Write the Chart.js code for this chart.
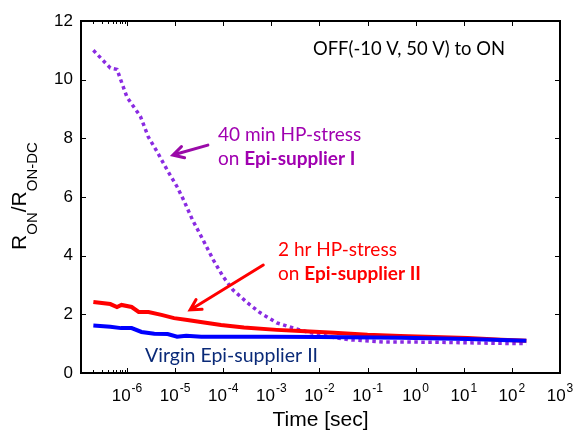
<!DOCTYPE html>
<html>
<head>
<meta charset="utf-8">
<script src="https://cdn.jsdelivr.net/npm/chart.js@4"></script>
<style>
  html, body { margin: 0; padding: 0; background: #fff; }
  #wrap { width: 574px; height: 437px; }
</style>
</head>
<body>
<div id="wrap"><canvas id="chart" width="574" height="437"></canvas></div>
<script>
// values (time in s, R_ON / R_ON-DC)
const stressITime = [2e-7, 4.5e-7, 6.2e-7, 1e-6, 1.9e-6, 2.75e-6, 4.2e-6, 6.8e-6, 1.1e-5, 1.5e-5, 2.3e-5, 3.8e-5, 6.2e-5, 1e-4, 1.6e-4, 3.2e-4, 5.9e-4, 1.3e-3, 2.9e-3, 5.6e-3, 1.7e-2, 4.5e-2, 0.21, 2.4, 26, 200];
const stressIValues = [11.0, 10.4, 10.35, 9.4, 8.75, 8.06, 7.55, 6.93, 6.35, 5.9, 5.22, 4.54, 3.86, 3.28, 2.83, 2.39, 2.05, 1.71, 1.53, 1.40, 1.23, 1.13, 1.06, 1.05, 1.02, 1.0];

const stressIITime = [2e-7, 4.5e-7, 6.2e-7, 7.7e-7, 1.25e-6, 1.75e-6, 2.8e-6, 5.2e-6, 9.5e-6, 1.8e-5, 3.4e-5, 9e-5, 2.7e-4, 1.3e-3, 4e-3, 2e-2, 0.1, 0.48, 2.4, 12, 60, 200];
const stressIIValues = [2.42, 2.35, 2.25, 2.32, 2.25, 2.08, 2.08, 1.98, 1.87, 1.81, 1.74, 1.64, 1.55, 1.47, 1.43, 1.37, 1.30, 1.26, 1.23, 1.19, 1.13, 1.10];

const virginTime = [2e-7, 4.5e-7, 7.5e-7, 1.25e-6, 2e-6, 3.7e-6, 7e-6, 1.1e-5, 1.7e-5, 3.5e-5, 1e-3, 1e-2, 0.5, 12, 200];
const virginValues = [1.62, 1.58, 1.53, 1.53, 1.40, 1.34, 1.33, 1.24, 1.27, 1.24, 1.24, 1.23, 1.20, 1.16, 1.10];

const decadeTicks = [1e-6, 1e-5, 1e-4, 1e-3, 1e-2, 1e-1, 1, 10, 100, 1000];
const decadeExponents = ['-6', '-5', '-4', '-3', '-2', '-1', '0', '1', '2', '3'];
const minorTicks = [2e-7, 3e-7, 4e-7, 5e-7, 6e-7, 7e-7, 8e-7, 9e-7];
const yTicks = [0, 2, 4, 6, 8, 10, 12];

const pts = (xs, ys) => xs.map((x, i) => ({ x: x, y: ys[i] }));

const AXIS_FONT = '"Liberation Sans", Arial, sans-serif';
const NOTE_FONT = 'Lato, "Open Sans", sans-serif';

function arrow(ctx, x0, y0, x1, y1, color) {
    const ang = Math.atan2(y1 - y0, x1 - x0);
    const head = 12, spread = 0.5;
    ctx.strokeStyle = color;
    ctx.lineWidth = 3;
    ctx.lineCap = 'round';
    ctx.beginPath();
    ctx.moveTo(x0, y0);
    ctx.lineTo(x1, y1);
    ctx.moveTo(x1 - head * Math.cos(ang - spread), y1 - head * Math.sin(ang - spread));
    ctx.lineTo(x1, y1);
    ctx.lineTo(x1 - head * Math.cos(ang + spread), y1 - head * Math.sin(ang + spread));
    ctx.stroke();
}

function mixedLine(ctx, x, y, parts) {
    parts.forEach(p => {
        ctx.font = (p.bold ? 'bold ' : '') + p.size + 'px ' + NOTE_FONT;
        ctx.fillText(p.text, x, y);
        x += ctx.measureText(p.text).width;
    });
}

const framePlugin = {
    id: 'frame',
    afterDraw(chart) {
        const { ctx, chartArea: a, scales: { x, y } } = chart;
        ctx.save();

        // ticks inside the box
        ctx.strokeStyle = '#000';
        ctx.lineWidth = 1;
        ctx.beginPath();
        decadeTicks.forEach(v => {
            const px = Math.round(x.getPixelForValue(v)) + 0.5;
            if (px < a.left + 2 || px > a.right - 2) return;
            ctx.moveTo(px, a.bottom); ctx.lineTo(px, a.bottom - 5);
            ctx.moveTo(px, a.top); ctx.lineTo(px, a.top + 5);
        });
        minorTicks.forEach(v => {
            const px = Math.round(x.getPixelForValue(v)) + 0.5;
            if (px < a.left + 2) return;
            ctx.moveTo(px, a.bottom); ctx.lineTo(px, a.bottom - 3);
            ctx.moveTo(px, a.top); ctx.lineTo(px, a.top + 3);
        });
        yTicks.forEach(v => {
            const py = Math.round(y.getPixelForValue(v)) + 0.5;
            if (py < a.top + 2 || py > a.bottom - 2) return;
            ctx.moveTo(a.left, py); ctx.lineTo(a.left + 5, py);
            ctx.moveTo(a.right, py); ctx.lineTo(a.right - 5, py);
        });
        ctx.stroke();

        ctx.lineWidth = 2;
        ctx.strokeRect(a.left, a.top, a.right - a.left, a.bottom - a.top);

        // x tick labels 10^n
        ctx.fillStyle = '#000';
        ctx.textBaseline = 'alphabetic';
        ctx.textAlign = 'left';
        decadeTicks.forEach((v, i) => {
            const px = x.getPixelForValue(v);
            ctx.font = '17px ' + AXIS_FONT;
            const wb = ctx.measureText('10').width;
            ctx.font = '12px ' + AXIS_FONT;
            const we = ctx.measureText(decadeExponents[i]).width;
            const x0 = px - (wb + we + 1) / 2;
            ctx.font = '17px ' + AXIS_FONT;
            ctx.fillText('10', x0, a.bottom + 28);
            ctx.font = '12px ' + AXIS_FONT;
            ctx.fillText(decadeExponents[i], x0 + wb + 1, a.bottom + 19);
        });

        // axis titles
        ctx.font = '21px ' + AXIS_FONT;
        ctx.textAlign = 'center';
        ctx.fillText('Time [sec]', (a.left + a.right) / 2, 426);

        ctx.save();
        ctx.translate(26, 196);
        ctx.rotate(-Math.PI / 2);
        ctx.textAlign = 'left';
        const yParts = [
            { t: 'R', s: 21, d: 0 }, { t: 'ON', s: 15, d: 11 },
            { t: '/R', s: 21, d: 0 }, { t: 'ON-DC', s: 15, d: 11 }
        ];
        let total = 0;
        yParts.forEach(p => { ctx.font = p.s + 'px ' + AXIS_FONT; total += ctx.measureText(p.t).width; });
        let cx = -total / 2;
        yParts.forEach(p => {
            ctx.font = p.s + 'px ' + AXIS_FONT;
            ctx.fillText(p.t, cx, p.d);
            cx += ctx.measureText(p.t).width;
        });
        ctx.restore();

        // annotations
        ctx.textAlign = 'left';
        ctx.fillStyle = '#000';
        mixedLine(ctx, 313, 55, [{ text: 'OFF(-10 V, 50 V) to ON', size: 18.4 }]);

        ctx.fillStyle = '#a000b0';
        mixedLine(ctx, 218, 141, [{ text: '40 min HP-stress', size: 19 }]);
        mixedLine(ctx, 218, 165, [{ text: 'on ', size: 19 }, { text: 'Epi-supplier I', size: 19, bold: true }]);

        ctx.fillStyle = '#ff0000';
        mixedLine(ctx, 278, 256, [{ text: '2 hr HP-stress', size: 19 }]);
        mixedLine(ctx, 278, 280, [{ text: 'on ', size: 19 }, { text: 'Epi-supplier II', size: 19, bold: true }]);

        ctx.fillStyle = '#0a2a78';
        mixedLine(ctx, 145, 362, [{ text: 'Virgin Epi-supplier II', size: 19.5 }]);

        // arrows, anchored in data space
        arrow(ctx, x.getPixelForValue(4.8e-5), y.getPixelForValue(7.77),
            x.getPixelForValue(9e-6), y.getPixelForValue(7.43), '#9a0aa8');
        arrow(ctx, x.getPixelForValue(6.8e-4), y.getPixelForValue(3.68),
            x.getPixelForValue(2.05e-5), y.getPixelForValue(2.15), '#ff0000');

        ctx.restore();
    }
};

new Chart(document.getElementById('chart'), {
    type: 'line',
    data: {
        datasets: [
            {
                label: 'Virgin Epi-supplier II',
                data: pts(virginTime, virginValues),
                borderColor: '#0000ff',
                borderWidth: 4
            },
            {
                label: '2 hr HP-stress on Epi-supplier II',
                data: pts(stressIITime, stressIIValues),
                borderColor: '#ff0000',
                borderWidth: 4
            },
            {
                label: '40 min HP-stress on Epi-supplier I',
                data: pts(stressITime, stressIValues),
                borderColor: '#8a2be2',
                borderWidth: 3.5,
                borderDash: [3.5, 3.5]
            }
        ]
    },
    options: {
        responsive: false,
        animation: false,
        events: [],
        elements: { point: { radius: 0 }, line: { tension: 0, borderCapStyle: 'butt' } },
        layout: { padding: { left: 0, right: 14, top: 21, bottom: 0 } },
        plugins: { legend: { display: false }, tooltip: { enabled: false } },
        scales: {
            x: {
                type: 'logarithmic',
                min: 1.107e-7,
                max: 1000,
                afterBuildTicks: s => { s.ticks = decadeTicks.map(v => ({ value: v })); },
                afterFit: s => { s.height = 64; },
                ticks: { display: false },
                grid: { display: false },
                border: { display: false }
            },
            y: {
                min: 0,
                max: 12,
                afterBuildTicks: s => { s.ticks = yTicks.map(v => ({ value: v })); },
                afterFit: s => { s.width = 81; },
                ticks: { color: '#000', font: { family: AXIS_FONT, size: 17 }, padding: 8 },
                grid: { display: false, drawTicks: false },
                border: { display: false }
            }
        }
    },
    plugins: [framePlugin]
});
</script>
</body>
</html>
